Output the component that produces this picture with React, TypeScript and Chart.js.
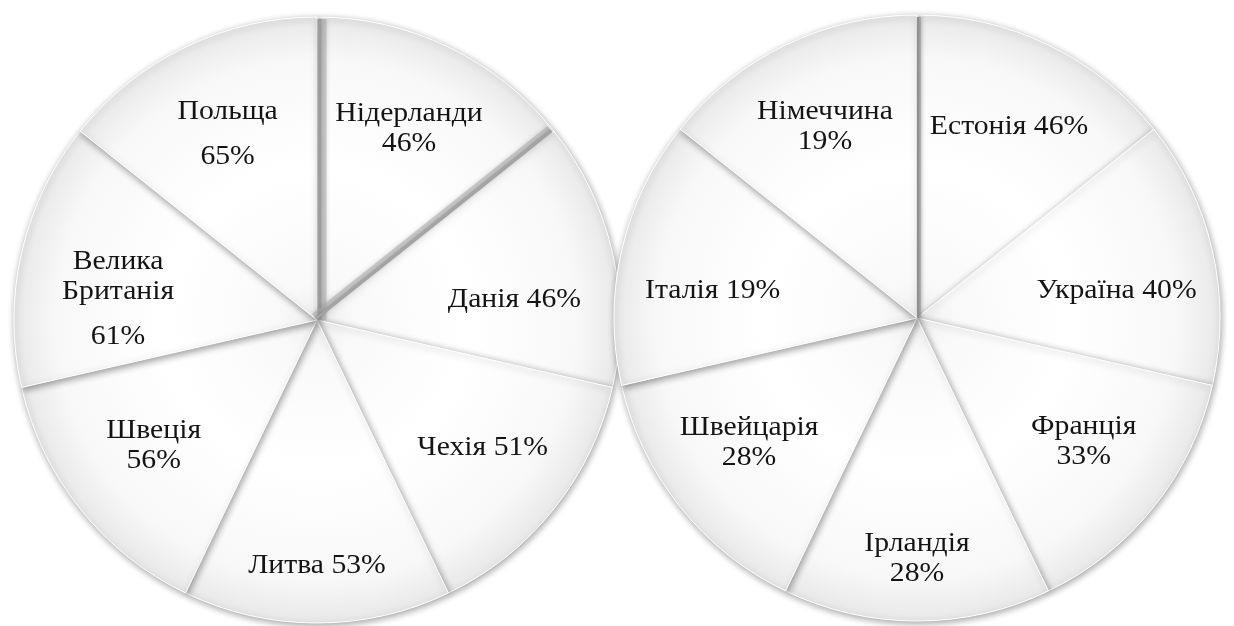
import React, { useEffect, useRef } from "react";
import { Chart, registerables } from "chart.js";

Chart.register(...registerables);

// ---------- data ----------
const leftCountries = ["Нідерланди", "Данія", "Чехія", "Литва", "Швеція", "Велика\nБританія", "Польща"];
const leftValues = [46, 46, 51, 53, 56, 61, 65];
// the source draws all seven slices with equal angles
const leftSliceShares = [1, 1, 1, 1, 1, 1, 1];

const rightCountries = ["Естонія", "Україна", "Франція", "Ірландія", "Швейцарія", "Італія", "Німеччина"];
const rightValues = [46, 40, 33, 28, 28, 19, 19];
const rightSliceShares = [1, 1, 1, 1, 1, 1, 1];

// ---------- label styles ----------
const leftLayout = ["stack", "inline", "inline", "inline", "stack", "stackGap", "stackGap"];
const leftLabelRadius = [0.70, 0.655, 0.69, 0.81, 0.68, 0.66, 0.68];
const leftLabelShift = [0, 7, -1, 0, 1, -7, 0];

const rightLayout = ["inline", "inline", "stack", "stack", "stack", "inline", "stack"];
const rightLabelRadius = [0.70, 0.665, 0.685, 0.795, 0.69, 0.68, 0.70];
const rightLabelShift = [0, 5, -2, 0, 2, -5.4, 0];

const RADIUS = 303;
const FONT = '27px "Liberation Serif", "DejaVu Serif", serif';
const TEXT_STRETCH = 1.1;

const softShadow = {
  id: "softShadow",
  beforeDatasetsDraw(chart: any) {
    const ctx = chart.ctx;
    ctx.save();
    ctx.shadowColor = "rgba(0,0,0,0.36)";
    ctx.shadowBlur = 7;
    ctx.shadowOffsetX = 1;
    ctx.shadowOffsetY = 2;
  },
  afterDatasetsDraw(chart: any) {
    chart.ctx.restore();
  },
};

const edgeBands = {
  id: "edgeBands",
  afterDatasetsDraw(chart: any, _args: any, opts: any) {
    const meta = chart.getDatasetMeta(0);
    const ctx = chart.ctx;
    (opts.edges || []).forEach((e: any) => {
      const arc = meta.data[e.index];
      if (!arc) return;
      const { x, y, startAngle, endAngle, outerRadius } = arc.getProps(
        ["x", "y", "startAngle", "endAngle", "outerRadius"],
        true
      );
      const a = e.side === "start" ? startAngle : endAngle;
      const dir = e.side === "start" ? 1 : -1;
      const nx = -Math.sin(a) * dir;
      const ny = Math.cos(a) * dir;
      const ex = Math.cos(a) * outerRadius * 1.05;
      const ey = Math.sin(a) * outerRadius * 1.05;
      ctx.save();
      ctx.beginPath();
      ctx.arc(x, y, outerRadius - 2, 0, Math.PI * 2);
      ctx.clip();
      ctx.lineCap = "butt";
      e.strokes.forEach((s: any) => {
        ctx.shadowColor = "rgba(0,0,0,0.25)";
        ctx.shadowBlur = s.blur;
        ctx.strokeStyle = s.color;
        ctx.lineWidth = s.width;
        ctx.beginPath();
        ctx.moveTo(x + nx * s.inset, y + ny * s.inset);
        ctx.lineTo(x + ex + nx * s.inset, y + ey + ny * s.inset);
        ctx.stroke();
      });
      ctx.restore();
    });
  },
};

const sliceLabels = {
  id: "sliceLabels",
  afterDatasetsDraw(chart: any, _args: any, opts: any) {
    const meta = chart.getDatasetMeta(0);
    const ctx = chart.ctx;
    ctx.save();
    ctx.font = FONT;
    ctx.fillStyle = "#141414";
    ctx.textAlign = "center";
    ctx.textBaseline = "middle";
    meta.data.forEach((arc: any, i: number) => {
      const { x, y, startAngle, endAngle, outerRadius } = arc.getProps(
        ["x", "y", "startAngle", "endAngle", "outerRadius"],
        true
      );
      const mid = (startAngle + endAngle) / 2 + (opts.shift[i] * Math.PI) / 180;
      const r = outerRadius * opts.radius[i];
      const cx = x + Math.cos(mid) * r;
      const cy = y + Math.sin(mid) * r;
      const name: string = opts.countries[i];
      const val = opts.values[i] + "%";
      const layout = opts.layout[i];
      const lines: { t: string; dy: number }[] = [];
      if (layout === "inline") {
        lines.push({ t: name.replace("\n", " ") + " " + val, dy: 0 });
      } else {
        let yy = 0;
        name.split("\n").forEach((n, k) => {
          if (k > 0) yy += 30;
          lines.push({ t: n, dy: yy });
        });
        yy += layout === "stackGap" ? 45 : 30;
        lines.push({ t: val, dy: yy });
      }
      const total = lines[lines.length - 1].dy;
      lines.forEach((l) => {
        ctx.save();
        ctx.translate(cx, cy - total / 2 + l.dy);
        ctx.scale(TEXT_STRETCH, 1);
        ctx.fillText(l.t, 0, 0);
        ctx.restore();
      });
    });
    ctx.restore();
  },
};

function makeFill(c: any) {
  const chart = c.chart;
  const { chartArea, ctx } = chart;
  if (!chartArea) return "#f6f6f6";
  const cx = (chartArea.left + chartArea.right) / 2;
  const cy = (chartArea.top + chartArea.bottom) / 2;
  const g = ctx.createRadialGradient(cx, cy, 0, cx, cy, RADIUS);
  g.addColorStop(0, "#eeeeee");
  g.addColorStop(0.12, "#f9f9f9");
  g.addColorStop(0.5, "#ffffff");
  g.addColorStop(0.86, "#f8f8f8");
  g.addColorStop(1, "#e8e8e8");
  return g;
}

function PieCanvas(props: {
  countries: string[];
  values: number[];
  shares: number[];
  layout: string[];
  labelRadius: number[];
  labelShift: number[];
  edges: any[];
  left: number;
  top: number;
}) {
  const ref = useRef<HTMLCanvasElement | null>(null);
  useEffect(() => {
    if (!ref.current) return;
    const chart = new Chart(ref.current, {
      type: "pie",
      data: {
        labels: props.countries,
        datasets: [
          {
            data: props.shares,
            backgroundColor: makeFill as any,
            borderColor: "#ffffff",
            borderWidth: 1,
          },
        ],
      },
      options: {
        animation: false,
        responsive: false,
        radius: RADIUS,
        layout: { padding: 0 },
        plugins: {
          legend: { display: false },
          tooltip: { enabled: false },
          edgeBands: { edges: props.edges },
          sliceLabels: {
            countries: props.countries,
            values: props.values,
            layout: props.layout,
            radius: props.labelRadius,
            shift: props.labelShift,
          },
        } as any,
      } as any,
      plugins: [softShadow, edgeBands, sliceLabels],
    });
    return () => chart.destroy();
  }, []);
  return (
    <canvas
      ref={ref}
      width={620}
      height={620}
      style={{ position: "absolute", left: props.left, top: props.top, width: 620, height: 620 }}
    />
  );
}

const leftEdges = [
  {
    index: 0,
    side: "start",
    strokes: [
      { inset: 5, width: 9, color: "rgba(170,170,170,0.55)", blur: 5 },
      { inset: 2.5, width: 2.5, color: "#9e9e9e", blur: 2 },
    ],
  },
  {
    index: 0,
    side: "end",
    strokes: [
      { inset: 4, width: 8, color: "rgba(170,170,170,0.55)", blur: 5 },
      { inset: 2, width: 2.5, color: "#a4a4a4", blur: 2 },
    ],
  },
];

const rightEdges = [
  {
    index: 0,
    side: "start",
    strokes: [
      { inset: 2, width: 4, color: "rgba(160,160,160,0.6)", blur: 3 },
      { inset: 1, width: 2, color: "#8e8e8e", blur: 1 },
    ],
  },
];

export default function App() {
  return (
    <div
      style={{
        position: "fixed",
        left: 0,
        top: 0,
        width: 1234,
        height: 626,
        background: "#ffffff",
        overflow: "hidden",
      }}
    >
      <PieCanvas
        countries={leftCountries}
        values={leftValues}
        shares={leftSliceShares}
        layout={leftLayout}
        labelRadius={leftLabelRadius}
        labelShift={leftLabelShift}
        edges={leftEdges}
        left={7}
        top={10}
      />
      <PieCanvas
        countries={rightCountries}
        values={rightValues}
        shares={rightSliceShares}
        layout={rightLayout}
        labelRadius={rightLabelRadius}
        labelShift={rightLabelShift}
        edges={rightEdges}
        left={607}
        top={8}
      />
    </div>
  );
}
